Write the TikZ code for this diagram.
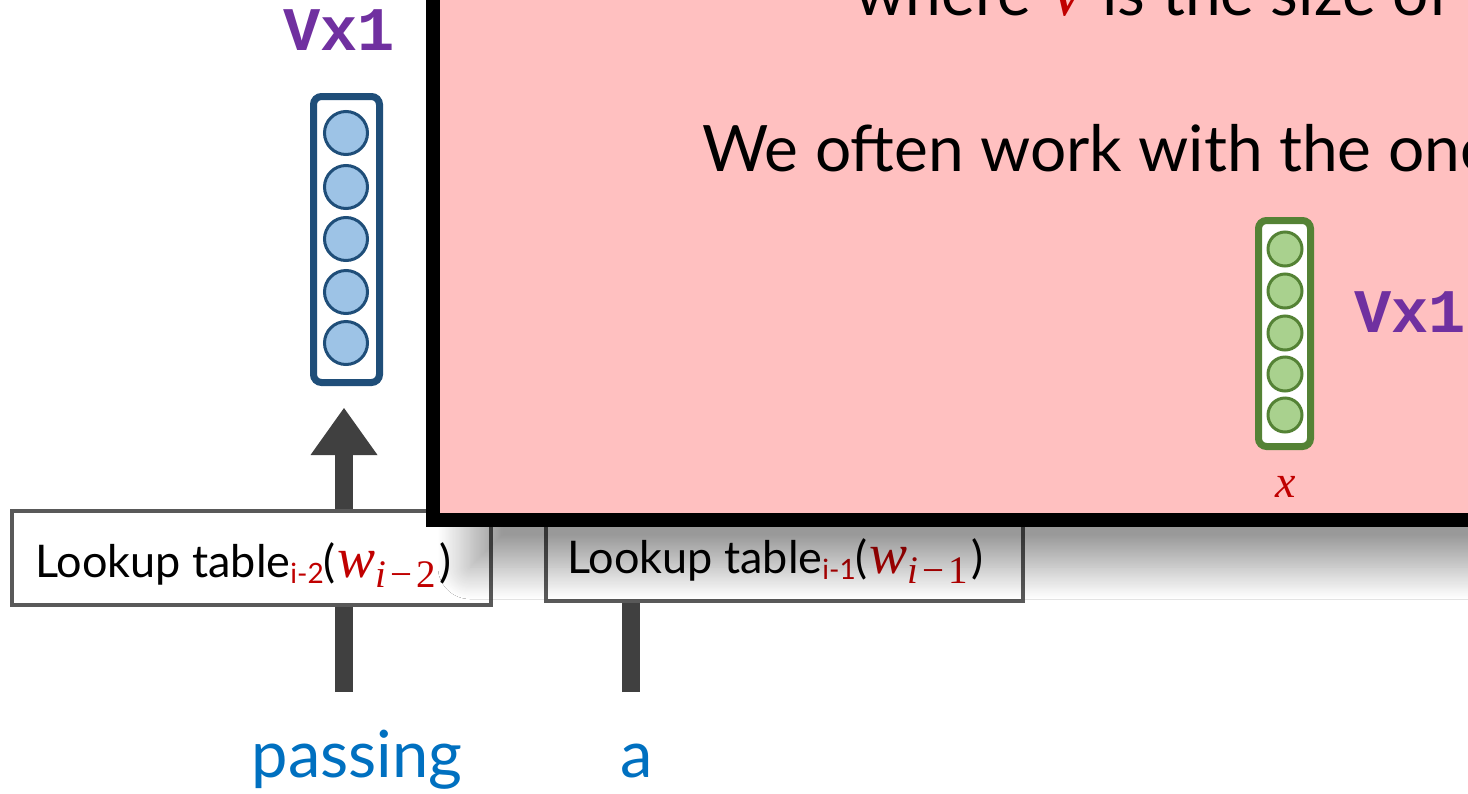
\documentclass[tikz,border=0pt]{standalone}
\usepackage{fontspec}
\setmainfont{Lato}
\newfontfamily\monof{Liberation Mono}
\newfontfamily\serf{Liberation Serif}
\newcommand{\myit}[1]{{\serf\itshape #1}}
\usetikzlibrary{arrows.meta,shadows.blur,fadings}
\definecolor{pinkbg}{HTML}{FFC0C0}
\definecolor{redc}{HTML}{C00000}
\definecolor{bluet}{HTML}{0070C0}
\definecolor{purp}{HTML}{7030A0}
\definecolor{bstroke}{HTML}{1F4E79}
\definecolor{bfill}{HTML}{9DC3E6}
\definecolor{gstroke}{HTML}{548235}
\definecolor{gfill}{HTML}{A9D18E}
\definecolor{boxgray}{HTML}{595959}
\definecolor{arrowgray}{HTML}{404040}
\tikzset{
  vecbox/.style={draw, line width=7pt, fill=white, rounded corners=8pt, inner sep=0pt},
  bcirc/.style={circle, draw=bstroke, fill=bfill, line width=3pt, minimum size=43pt, inner sep=0pt},
  gcirc/.style={circle, draw=gstroke, fill=gfill, line width=3pt, minimum size=34pt, inner sep=0pt},
  lookbox/.style={draw=boxgray, line width=4pt, fill=white, inner sep=0pt},
  shaft/.style={draw=arrowgray, line width=18pt},
  looktext/.style={anchor=base west, inner sep=0pt, font=\fontsize{45}{45}\selectfont},
  bigtext/.style={anchor=base west, inner sep=0pt, font=\fontsize{64}{64}\selectfont},
  wordtext/.style={anchor=base, inner sep=0pt, text=bluet, font=\fontsize{65}{65}\selectfont},
  dimtext/.style={anchor=base west, inner sep=0pt, text=purp, font=\monof\bfseries\fontsize{62}{62}\selectfont},
}
\newcommand{\lsub}[1]{\raisebox{-6pt}{\fontsize{28}{28}\selectfont\color{redc}i-#1}}
\newcommand{\wsub}[1]{\textcolor{redc}{\kern2pt\myit{\fontsize{57}{57}\selectfont w}\raisebox{-10pt}{\fontsize{39}{39}\selectfont\myit{i}\serf\kern4pt−\kern4pt#1}\kern3pt}}
\begin{document}
\begin{tikzpicture}[x=1pt,y=-1pt]
\useasboundingbox (0,0) rectangle (1468,793);
\clip (0,0) rectangle (1468,793);
\fill[white] (0,0) rectangle (1468,793);

% connectors (drawn first, boxes on top)
\coordinate (p1) at (344,692);
\coordinate (t1) at (344,408);
\coordinate (p2) at (631,692);
\draw[shaft, -{Triangle[width=67pt,length=47pt,line width=0pt]}] (p1) -- (t1);

% lookup boxes
\node[lookbox, minimum width=479pt, minimum height=94pt] (lk1) at (251.5,558) {};
\draw[shaft] (p2) -- (p2 |- 0,554);
\node[lookbox, minimum width=477pt, minimum height=94pt] (lk2) at (784.5,554) {};
\node[looktext] (lt1) at (35,577) {Lookup table\lsub{2}(\wsub{2})};
\node[looktext] (lt2) at (567,573) {Lookup table\lsub{1}(\wsub{1})};

% pink frame with shadow
\path[fill=pinkbg, draw=black, line width=14pt,
  blur shadow={shadow xshift=37pt, shadow yshift=-47pt, shadow blur radius=32pt,
               shadow blur steps=30, shadow opacity=40}]
  (433,-80) rectangle (1600,520);

\node[bigtext] (t0) at (855,15) {where \textcolor{redc}{\myit{V}} is the size of};
\node[bigtext] (t2) at (702,171) {We often work with the one};

% green vector
\node[vecbox, draw=gstroke, minimum width=52pt, minimum height=226pt] (gv) at (1284.5,333.5) {};
\foreach \i/\y in {1/249,2/291,3/333,4/374,5/415}
  \node[gcirc] (g\i) at (1285,\y) {};
\node[dimtext] (gdim) at (1354,332) {Vx1};
\node[anchor=base, inner sep=0pt, text=redc, font=\fontsize{46}{46}\selectfont] (xl) at (1286,497) {\myit{x}};

% blue vector
\node[vecbox, draw=bstroke, minimum width=66pt, minimum height=286pt] (bv) at (346.5,239.5) {};
\foreach \i/\y in {1/133,2/187,3/239,4/292,5/343}
  \node[bcirc] (b\i) at (346,\y) {};
\node[dimtext] (bdim) at (283,50) {Vx1};

% words
\node[wordtext] (w1) at (357,777) {passing};
\node[wordtext] (w2) at (637,777) {a};
\end{tikzpicture}
\end{document}
